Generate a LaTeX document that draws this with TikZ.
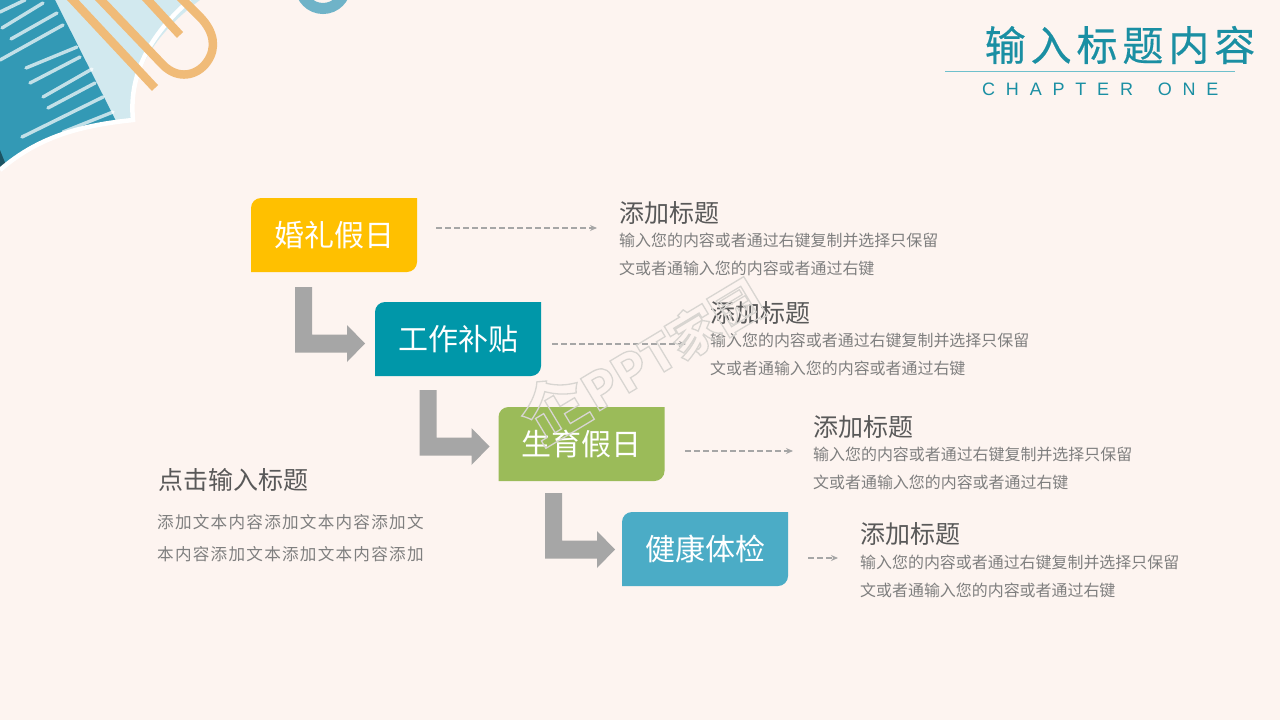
\documentclass[tikz,border=0pt]{standalone}
\usepackage{fontspec}
\setmainfont{Noto Sans CJK SC}
\newfontfamily\latinf{Liberation Sans}
\usetikzlibrary{arrows.meta}
\definecolor{bgc}{HTML}{FDF4F0}
\definecolor{teal1}{HTML}{3399B5}
\definecolor{clipc}{HTML}{F0BB78}
\definecolor{ringc}{HTML}{6FB3C8}
\definecolor{titlec}{HTML}{1A8FA3}
\definecolor{rulec}{HTML}{6FC0CC}
\definecolor{headc}{HTML}{595959}
\definecolor{bodyc}{HTML}{7F7F7F}
\definecolor{arrowc}{HTML}{A6A6A6}
\definecolor{yel}{HTML}{FFC000}
\definecolor{tealb}{HTML}{0097A9}
\definecolor{greenb}{HTML}{9BBB59}
\definecolor{blueb}{HTML}{4BACC6}
\definecolor{wm}{HTML}{D8D5D1}
\tikzset{
 x=1pt,y=-1pt,
 boxlabel/.style={font=\fontsize{30}{30}\selectfont,text=white,anchor=center,inner sep=0pt},
 head/.style={font=\fontsize{25}{25}\selectfont,text=headc,anchor=west,inner sep=0pt},
 body/.style={font=\fontsize{15.95}{16}\selectfont,text=bodyc,anchor=west,inner sep=0pt},
 lbody/.style={font=\addfontfeature{LetterSpace=7.5}\fontsize{16.6}{16.6}\selectfont,text=bodyc,anchor=west,inner sep=0pt},
 dashline/.style={draw=arrowc,line width=2.4pt,dash pattern=on 6pt off 3pt,-{Stealth[length=7pt,width=6pt]}},
 bentarrow/.style={fill=arrowc,draw=none},
 whiteline/.style={draw=white,opacity=.7,line width=3.4pt,line cap=round},
 clipline/.style={draw=clipc,line width=8.5pt},
}
\newcommand{\cornerbox}[3]{% x y colour
 \fill[#3] (#1,#2) ++(10,0) -- ++(156,0) -- ++(0,64) arc[start angle=0,end angle=90,radius=10] -- ++(-156,0) -- ++(0,-64) arc[start angle=180,end angle=270,radius=10] -- cycle;
}
\newcommand{\bent}[2]{% x y of top-left
 \fill[bentarrow] (#1,#2) -- ++(17,0) -- ++(0,47.5) -- ++(35,0) -- ++(0,-9.5) -- ++(18,18.5) -- ++(-18,18.5) -- ++(0,-9.5) -- ++(-52,0) -- cycle;
}
\begin{document}
\begin{tikzpicture}
\useasboundingbox (0,0) rectangle (1280,720);
\fill[bgc] (0,0) rectangle (1280,720);
% corner art
\begin{scope}
\clip (0,0) -- (200,0) .. controls (160,30) and (128,70) .. (133,120) .. controls (85,125) and (40,135) .. (0,170) -- cycle;
\fill[teal1!22!white] (0,0) rectangle (200,125);
\fill[teal1] (0,0) -- (55,0) -- (118,125) -- (0,175) -- cycle;
\fill[teal1!55!black] (0,150) -- (8,170) -- (0,175) -- cycle;
\draw[whiteline] (0,12) -- (25,0);
\draw[whiteline] (2,28) -- (43,3);
\draw[whiteline] (11,39) -- (57,13);
\draw[whiteline] (0,60) -- (63,25);
\draw[whiteline] (26,68) -- (77,47);
\draw[whiteline] (30,83) -- (80,57);
\draw[whiteline] (43,97) -- (92,69);
\draw[whiteline] (48,108) -- (95,83);
\draw[whiteline] (22,137) -- (103,97);
\draw[whiteline] (63,132) -- (113,112);
\end{scope}
\draw[white,line width=4.5pt] (190,0) .. controls (155,30) and (128,70) .. (133,120) .. controls (85,125) and (40,135) .. (0,170);
\draw[clipline] (70,-3) -- (155,88);
\draw[clipline] (98,-3) -- (163,65) .. controls (178,80) and (197,76) .. (207,62) .. controls (217,48) and (214,32) .. (201,18) -- (180,-3);
\draw[clipline] (145,-3) -- (180,35);
\draw[ringc,line width=11pt] (323,-14) circle (22.5);
% title
\node[inner sep=0pt,anchor=center,text=titlec,font=\addfontfeature{LetterSpace=12,FakeBold=0.4}\fontsize{41}{41}\selectfont] (title) at (1120,45) {输入标题内容};
\coordinate (ruleL) at (945,71.5); \coordinate (ruleR) at (1235,71.5);
\draw[color=rulec,line width=1.5pt] (ruleL) -- (ruleR);
\node[inner sep=0pt,anchor=west,text=titlec,font=\latinf\addfontfeature{LetterSpace=60}\fontsize{18}{18}\selectfont] (chapter) at (982,89) {CHAPTER\hspace{9pt} ONE};
% boxes
\cornerbox{251}{198}{yel}
\node[boxlabel] (b1) at (334,235) {婚礼假日};
\cornerbox{375}{302}{tealb}
\node[boxlabel] (b2) at (458.5,339) {工作补贴};
\cornerbox{498.5}{407}{greenb}
\node[boxlabel] (b3) at (581.5,444) {生育假日};
\cornerbox{622}{512}{blueb}
\node[boxlabel] (b4) at (705.5,549) {健康体检};
\bent{295}{287}
\bent{419.5}{390}
\bent{545}{493}
% connectors
\coordinate (s1) at (436,228); \coordinate (e1) at (597,228);
\coordinate (s2) at (552,344); \coordinate (e2) at (686,344);
\coordinate (s3) at (685,451); \coordinate (e3) at (793,451);
\coordinate (s4) at (808,558); \coordinate (e4) at (838,558);
\draw[dashline] (s1) -- (e1);
\draw[dashline] (s2) -- (e2);
\draw[dashline] (s3) -- (e3);
\draw[dashline] (s4) -- (e4);
% right texts
\node[head] (h1) at (619,213) {添加标题};
\node[body] (p1a) at (619,240) {输入您的内容或者通过右键复制并选择只保留};
\node[body] (p1b) at (619,268) {文或者通输入您的内容或者通过右键};
\node[head] (h2) at (710,313) {添加标题};
\node[body] (p2a) at (710,340) {输入您的内容或者通过右键复制并选择只保留};
\node[body] (p2b) at (710,368) {文或者通输入您的内容或者通过右键};
\node[head] (h3) at (813,427) {添加标题};
\node[body] (p3a) at (813,454) {输入您的内容或者通过右键复制并选择只保留};
\node[body] (p3b) at (813,482) {文或者通输入您的内容或者通过右键};
\node[head] (h4) at (860,534) {添加标题};
\node[body] (p4a) at (860,562) {输入您的内容或者通过右键复制并选择只保留};
\node[body] (p4b) at (860,590) {文或者通输入您的内容或者通过右键};
% left text
\node[head] (lh) at (158,480) {点击输入标题};
\node[lbody] (l1) at (157,522) {添加文本内容添加文本内容添加文};
\node[lbody] (l2) at (157,554) {本内容添加文本添加文本内容添加};
% watermark
\node[inner sep=0pt,rotate=31,anchor=center,text=wm,font=\bfseries\fontsize{50}{50}\selectfont] (mark) at (640,356) {\special{pdf:code 1 Tr 1.3 w}{\fontsize{66}{66}\selectfont 企}PPT家园\special{pdf:code 0 Tr}};
\end{tikzpicture}
\end{document}
